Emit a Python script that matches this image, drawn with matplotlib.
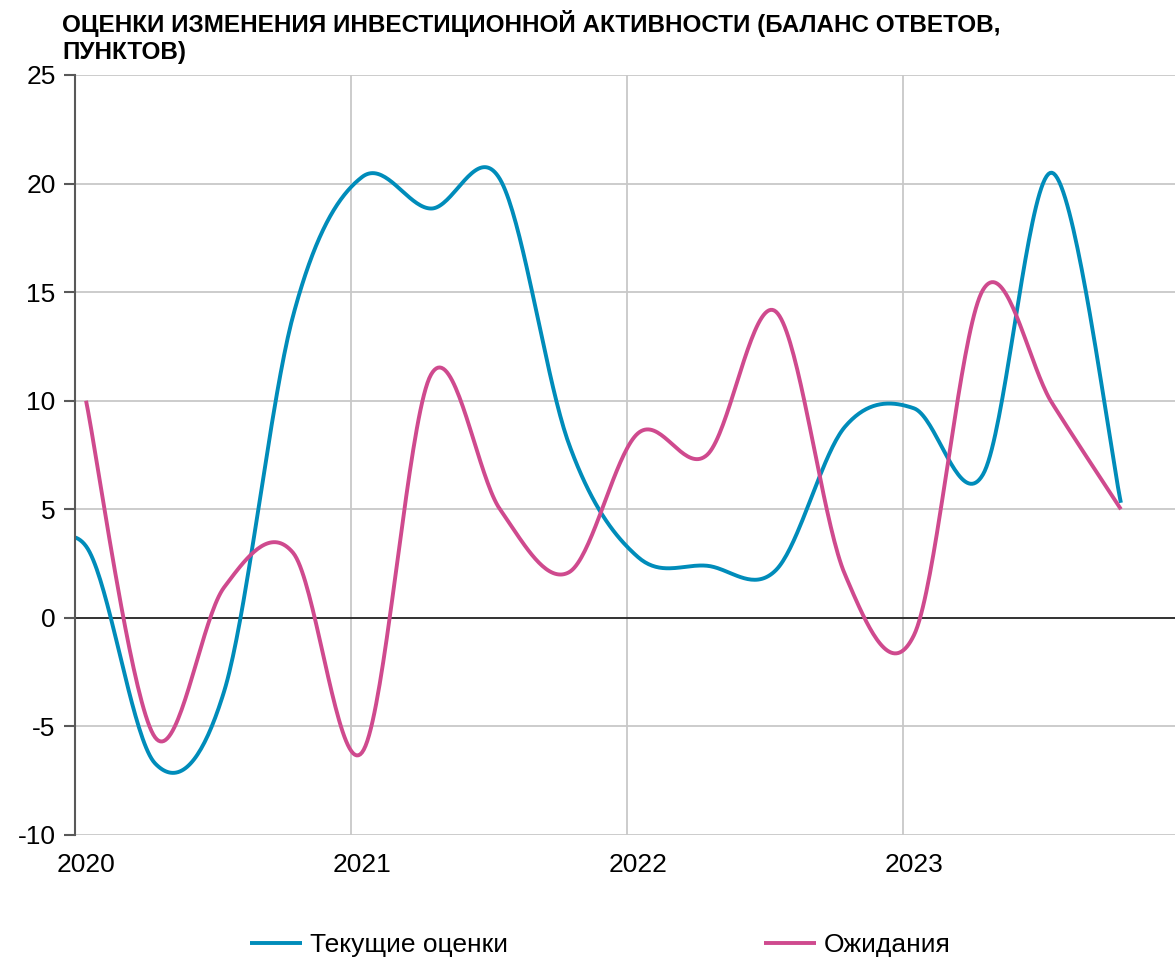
import numpy as np
import matplotlib
matplotlib.use("Agg")
import matplotlib.pyplot as plt

plt.rcParams["font.family"] = ["Liberation Sans", "DejaVu Sans"]

# квартальные точки (середина первого месяца квартала)
quarters = [2019.79, 2020.04, 2020.29, 2020.54, 2020.79, 2021.04, 2021.29, 2021.54,
            2021.79, 2022.04, 2022.29, 2022.54, 2022.79, 2023.04, 2023.29, 2023.54, 2023.79]

current = [2.0, 3.3, -6.7, -3.4, 13.9, 20.3, 18.85, 20.2, 8.0,
           2.8, 2.4, 2.2, 8.8, 9.65, 6.6, 20.5, 5.3]
expect = [None, 10.0, -5.5, 1.4, 3.0, -6.2, 11.2, 5.0, 2.1,
          8.5, 7.5, 14.1, 2.0, -0.8, 15.1, 9.9, 5.0]

years = [2020, 2021, 2022, 2023]
yticks = [-10, -5, 0, 5, 10, 15, 20, 25]


def smooth(x, y, n=40):
    """сглаживание как в Excel (Catmull-Rom)"""
    x = np.asarray(x, float)
    y = np.asarray(y, float)
    px = np.concatenate([[x[0]], x, [x[-1]]])
    py = np.concatenate([[y[0]], y, [y[-1]]])
    xs, ys = [], []
    for i in range(1, len(px) - 2):
        t = np.linspace(0, 1, n)
        bx = [px[i], px[i] + (px[i + 1] - px[i - 1]) / 6, px[i + 1] - (px[i + 2] - px[i]) / 6, px[i + 1]]
        by = [py[i], py[i] + (py[i + 1] - py[i - 1]) / 6, py[i + 1] - (py[i + 2] - py[i]) / 6, py[i + 1]]
        c = [(1 - t) ** 3, 3 * (1 - t) ** 2 * t, 3 * (1 - t) * t ** 2, t ** 3]
        xs.append(sum(ci * b for ci, b in zip(c, bx)))
        ys.append(sum(ci * b for ci, b in zip(c, by)))
    return np.concatenate(xs), np.concatenate(ys)


fig = plt.figure(figsize=(11.75, 9.59), dpi=100)
ax = fig.add_axes([75 / 1175, 1 - 835 / 959, 1 - 75 / 1175, 760 / 959])

blue = "#008CBA"
pink = "#CF4A8E"

xb, yb = smooth(quarters, current)
ax.plot(xb, yb, color=blue, lw=2.8, label="Текущие оценки", solid_capstyle="butt")
qe = [q for q, v in zip(quarters, expect) if v is not None]
ve = [v for v in expect if v is not None]
xe, ye = smooth(qe, ve)
ax.plot(xe, ye, color=pink, lw=2.8, label="Ожидания", solid_capstyle="butt")

ax.set_xlim(2020, 2023.986)
ax.set_ylim(-10, 25)
ax.set_yticks(yticks)
ax.set_yticklabels([str(v) for v in yticks], fontsize=19)
ax.set_xticks(years)
ax.set_xticklabels([])
ax.tick_params(axis="x", length=0)
ax.tick_params(axis="y", length=8, width=1.5, color="#595959", pad=6)
for yr in years:
    ax.text(yr + 0.04, -10.85, str(yr), ha="center", va="top", fontsize=19)

ax.grid(True, color="#C8C8C8", lw=1.3)
ax.set_axisbelow(True)
ax.axhline(0, color="#262626", lw=1.3, zorder=1.5)
for s in ["top", "right", "bottom"]:
    ax.spines[s].set_visible(False)
ax.spines["left"].set_color("#595959")
ax.spines["left"].set_linewidth(1.5)

fig.text(62 / 1175, 1 - 10 / 959,
         "ОЦЕНКИ ИЗМЕНЕНИЯ ИНВЕСТИЦИОННОЙ АКТИВНОСТИ (БАЛАНС ОТВЕТОВ,\nПУНКТОВ)",
         ha="left", va="top", fontsize=17.5, fontweight="bold", linespacing=1.25)

fig.legend(loc="center", bbox_to_anchor=(600 / 1175, 1 - 945 / 959), ncol=2, frameon=False,
           fontsize=19, handlelength=2.0, handletextpad=0.27, columnspacing=9.7,
           borderaxespad=0)

fig.savefig("out.png", dpi=100)
